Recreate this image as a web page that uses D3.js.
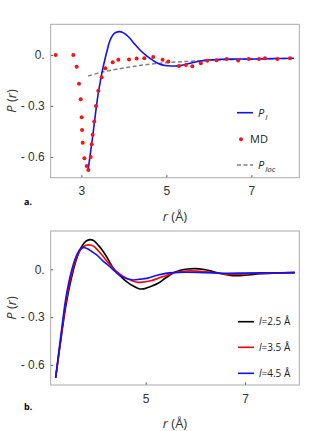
<!DOCTYPE html>
<html><head><meta charset="utf-8">
<script src="https://cdn.jsdelivr.net/npm/d3@7"></script>
<style>
body{margin:0;background:#fff;}
svg{display:block;font-family:"Open Sans",sans-serif;}
</style></head>
<body><svg id="c" width="333" height="431"></svg>
<script>
// ---------- data ----------
const xTicksA = [3, 5, 7];
const xTicksB = [5, 7];
const yTicks = [0, -0.3, -0.6];

// Panel a: P_l curve
const plR = [3.16,3.2,3.25,3.3,3.35,3.4,3.45,3.5,3.55,3.6,3.67,3.75,3.82,3.9,3.98,4.05,4.14,4.25,4.38,4.5,4.615,4.73,4.85,4.97,5.09,5.2,5.32,5.45,5.56,5.74,5.9,6.1,6.5,7.0,7.5,8.0];
const plP = [-0.675,-0.6,-0.51,-0.41,-0.31,-0.22,-0.15,-0.085,-0.03,0.02,0.083,0.12,0.133,0.137,0.131,0.119,0.098,0.065,0.029,0.002,-0.02,-0.04,-0.055,-0.062,-0.065,-0.065,-0.063,-0.056,-0.049,-0.039,-0.032,-0.028,-0.025,-0.024,-0.022,-0.02];

// Panel a: MD points
const mdR = [2.396,2.81,2.89,2.944,2.984,3.007,3.015,3.031,3.07,3.125,3.163,3.219,3.243,3.266,3.304,3.344,3.398,3.478,3.563,3.737,3.87,4.12,4.30,4.48,4.69,4.91,5.045,5.296,5.46,5.61,5.81,5.96,6.18,6.42,6.69,6.94,7.18,7.32,7.61,7.91];
const mdP = [0.0,0.0,-0.069,-0.169,-0.261,-0.367,-0.441,-0.516,-0.608,-0.653,-0.676,-0.6,-0.525,-0.47,-0.392,-0.3,-0.21,-0.131,-0.078,-0.043,-0.029,-0.027,-0.021,-0.02,-0.012,-0.029,-0.039,-0.065,-0.059,-0.067,-0.049,-0.035,-0.031,-0.024,-0.033,-0.024,-0.024,-0.02,-0.024,-0.02];

// Panel a: P_loc curve
const locR = [3.16,3.5,4.0,4.5,5.0,5.5,6.0,6.5,7.0,7.5,8.0];
const locP = [-0.124,-0.1,-0.077,-0.058,-0.046,-0.038,-0.032,-0.028,-0.025,-0.022,-0.02];

// Panel b: three curves
const bR1 = [3.19,3.3,3.4,3.5,3.6,3.7,3.8,3.88,3.95,4.05,4.15,4.25,4.35,4.45,4.55,4.65,4.75,4.85,4.92,5.0,5.1,5.25,5.4,5.56,5.7,5.85,6.0,6.15,6.3,6.45,6.6,6.75,6.9,7.1,7.3,7.6,8.0];
const bP1 = [-0.68,-0.43,-0.22,-0.065,0.055,0.135,0.176,0.186,0.18,0.15,0.11,0.06,0.006,-0.03,-0.06,-0.085,-0.105,-0.12,-0.124,-0.12,-0.108,-0.088,-0.055,-0.022,-0.006,0.002,0.004,0.0,-0.01,-0.022,-0.033,-0.04,-0.04,-0.034,-0.028,-0.024,-0.021];
const bR2 = [3.19,3.3,3.4,3.5,3.6,3.7,3.8,3.85,3.95,4.05,4.15,4.25,4.35,4.45,4.55,4.65,4.75,4.85,4.95,5.1,5.25,5.4,5.56,5.75,5.9,6.1,6.35,6.6,6.8,7.1,7.5,8.0];
const bP2 = [-0.68,-0.42,-0.2,-0.045,0.065,0.128,0.15,0.153,0.145,0.115,0.079,0.04,0.005,-0.022,-0.045,-0.062,-0.075,-0.082,-0.08,-0.072,-0.057,-0.04,-0.022,-0.012,-0.01,-0.013,-0.02,-0.03,-0.031,-0.027,-0.023,-0.021];
const bR3 = [3.19,3.3,3.4,3.5,3.6,3.68,3.75,3.82,3.92,4.015,4.15,4.28,4.4,4.52,4.63,4.75,4.89,5.02,5.25,5.4,5.56,5.8,6.2,6.6,7.0,7.5,8.0];
const bP3 = [-0.68,-0.4,-0.17,-0.02,0.08,0.125,0.136,0.13,0.11,0.09,0.05,0.016,-0.018,-0.046,-0.06,-0.067,-0.062,-0.057,-0.036,-0.026,-0.021,-0.019,-0.021,-0.025,-0.024,-0.022,-0.021];
const bLabels = ["=2.5 Å", "=3.5 Å", "=4.5 Å"];
const bColors = ["#000000", "#ff0000", "#1010ff"];

// ---------- drawing ----------
const svg = d3.select("#c");
const fmt = v => v === 0 ? "0." : "- " + Math.abs(v).toFixed(1);

function panel(cfg) {
  const x = d3.scaleLinear().domain(cfg.xd).range([50.7, 299.3]);
  const y = d3.scaleLinear().domain(cfg.yd).range([cfg.bottom, cfg.top]);
  const g = svg.append("g");
  // ticks (inward)
  g.append("g").attr("transform", `translate(0,${cfg.bottom})`)
    .call(d3.axisBottom(x).tickValues(cfg.xt).tickSize(-2.5).tickPadding(9).tickFormat(d3.format("d")))
    .call(a => { a.select(".domain").remove(); a.selectAll("line").attr("stroke", "#555");
      a.selectAll("text").attr("font-size", 12).attr("fill", "#333"); });
  g.append("g").attr("transform", "translate(50.7,0)")
    .call(d3.axisLeft(y).tickValues(yTicks).tickSize(-2.5).tickPadding(6).tickFormat(fmt))
    .call(a => { a.select(".domain").remove(); a.selectAll("line").attr("stroke", "#555");
      a.selectAll("text").attr("font-size", 12).attr("fill", "#333"); });
  // frame
  g.append("rect").attr("x", 50.7).attr("y", cfg.top).attr("width", 248.6)
    .attr("height", cfg.bottom - cfg.top).attr("fill", "none").attr("stroke", "#aaa").attr("stroke-width", 1);
  // axis titles
  const xt = g.append("text").attr("x", 175).attr("y", cfg.bottom + 43).attr("text-anchor", "middle")
    .attr("font-size", 13).attr("fill", "#333");
  xt.append("tspan").attr("font-style", "italic").text("r");
  xt.append("tspan").text(" (Å)");
  const yt = g.append("text").attr("transform", `translate(16,${(cfg.top + cfg.bottom) / 2}) rotate(-90)`)
    .attr("text-anchor", "middle").attr("font-size", 13).attr("fill", "#333");
  yt.append("tspan").attr("font-style", "italic").text("P");
  yt.append("tspan").text(" (");
  yt.append("tspan").attr("font-style", "italic").text("r");
  yt.append("tspan").text(")");
  g.append("text").attr("x", 24).attr("y", cfg.labelY).attr("font-size", 9).attr("font-weight", "bold")
    .attr("fill", "#000").text(cfg.label);
  const clip = "clip" + cfg.label.replace(".", "");
  svg.append("clipPath").attr("id", clip).append("rect").attr("x", 50.7).attr("y", cfg.top)
    .attr("width", 248.6).attr("height", cfg.bottom - cfg.top);
  const plot = g.append("g").attr("clip-path", `url(#${clip})`);
  return {x, y, g, plot};
}

// Panel a
const A = panel({xd: [2.278, 8.128], yd: [-0.722, 0.18], top: 24.3, bottom: 177.7, xt: xTicksA, label: "a.", labelY: 205});
const lineA = d3.line().x(d => A.x(d[0])).y(d => A.y(d[1])).curve(d3.curveCatmullRom.alpha(0.5));
A.plot.append("path").datum(d3.zip(locR, locP)).attr("d", lineA).attr("fill", "none")
  .attr("stroke", "#808080").attr("stroke-width", 1.5).attr("stroke-dasharray", "4,2.5");
A.plot.append("path").datum(d3.zip(plR, plP)).attr("d", lineA).attr("fill", "none")
  .attr("stroke", "#1010ff").attr("stroke-width", 1.6);
A.plot.selectAll("circle").data(d3.zip(mdR, mdP)).join("circle")
  .attr("cx", d => A.x(d[0])).attr("cy", d => A.y(d[1])).attr("r", 2).attr("fill", "#ff1010");

// legend a
const lg = A.g.append("g").attr("font-size", 11).attr("fill", "#222");
lg.append("line").attr("x1", 237).attr("x2", 253).attr("y1", 112.7).attr("y2", 112.7).attr("stroke", "#1010ff").attr("stroke-width", 1.6);
let t = lg.append("text").attr("x", 258).attr("y", 116.5);
t.append("tspan").attr("font-style", "italic").text("P");
t.append("tspan").attr("font-style", "italic").attr("font-size", 8).attr("dy", 3).attr("dx", 1).text("l");
lg.append("circle").attr("cx", 241).attr("cy", 139.3).attr("r", 2).attr("fill", "#ff1010");
lg.append("text").attr("x", 250).attr("y", 143.3).text("MD");
lg.append("line").attr("x1", 237).attr("x2", 253).attr("y1", 165).attr("y2", 165).attr("stroke", "#808080").attr("stroke-width", 1.5).attr("stroke-dasharray", "4,2.5");
t = lg.append("text").attr("x", 258).attr("y", 168.5);
t.append("tspan").attr("font-style", "italic").text("P");
t.append("tspan").attr("font-style", "italic").attr("font-size", 8).attr("dy", 3).attr("dx", 1).text("loc");

// Panel b
const B = panel({xd: [3.09, 8.09], yd: [-0.726, 0.24], top: 231, bottom: 385, xt: xTicksB, label: "b.", labelY: 410});
const lineB = d3.line().x(d => B.x(d[0])).y(d => B.y(d[1])).curve(d3.curveCatmullRom.alpha(0.5));
const series = [[bR1, bP1], [bR2, bP2], [bR3, bP3]];
series.forEach((s, i) => {
  B.plot.append("path").datum(d3.zip(s[0], s[1])).attr("d", lineB).attr("fill", "none")
    .attr("stroke", bColors[i]).attr("stroke-width", 1.6);
});
const lgb = B.g.append("g").attr("font-size", 10).attr("fill", "#222");
[321.7, 347.3, 373.3].forEach((yy, i) => {
  lgb.append("line").attr("x1", 238).attr("x2", 254).attr("y1", yy).attr("y2", yy)
    .attr("stroke", bColors[i]).attr("stroke-width", 1.6);
  const tt = lgb.append("text").attr("x", 259).attr("y", yy + 3.5);
  tt.append("tspan").attr("font-style", "italic").text("l");
  tt.append("tspan").text(bLabels[i]);
});
</script></body></html>
